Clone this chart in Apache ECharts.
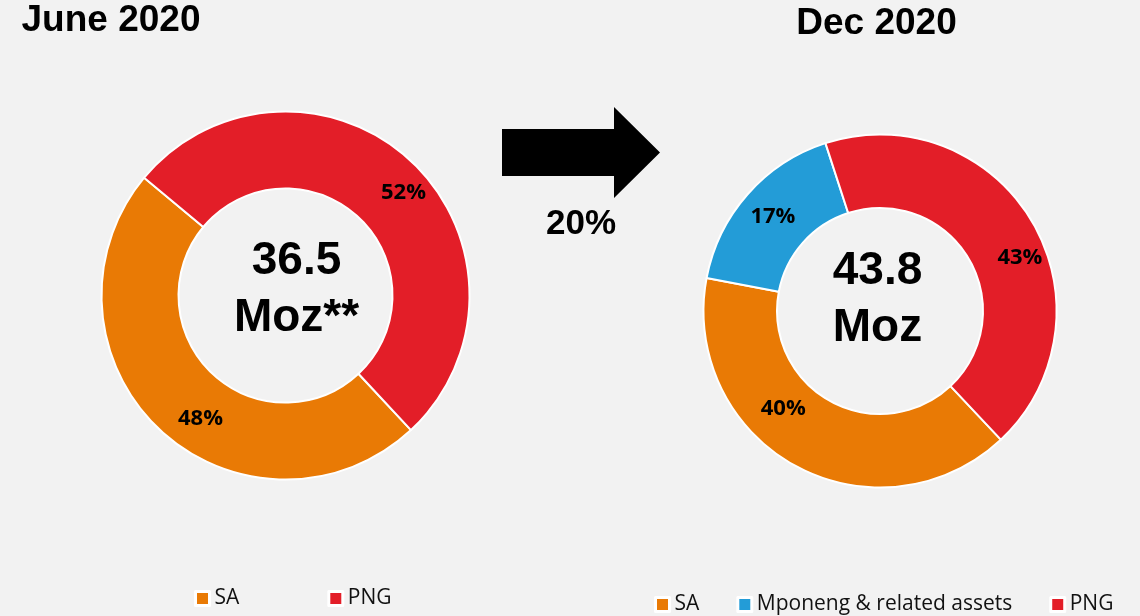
<!DOCTYPE html>
<html>
<head>
<meta charset="utf-8">
<script src="https://cdn.jsdelivr.net/npm/echarts@6/dist/echarts.min.js"></script>
<style>
    html, body { margin: 0; padding: 0; background: #f2f2f2; }
    #chart { width: 1140px; height: 616px; }
</style>
</head>
<body>
<div id="chart"></div>
<script>
// data
const juneCategories = ["SA", "PNG"]
const juneValues = [48, 52]
const decCategories = ["SA", "Mponeng & related assets", "PNG"]
const decValues = [40, 17, 43]
const periodTitles = ["June 2020", "Dec 2020"]
const totals = ["36.5\nMoz**", "43.8\nMoz"]
const growthText = "20%"

const colors = {
    "SA": "#E97A05",
    "Mponeng & related assets": "#239CD7",
    "PNG": "#E31E28",
}

// label nudges (Excel puts them a bit off the mid radius)
const juneLabelShift = [[17, 15], [16, 5]]
const decLabelShift = [[-28, -27], [0, 0], [17, 19]]

const boldArial = size => `bold ${size}px "Liberation Sans", Arial, sans-serif`

function pieSeries(name, categories, values, center, radius, startAngle, shifts) {
    return {
        type: "pie",
        name: name,
        center: center,
        radius: radius,
        startAngle: startAngle,
        clockwise: true,
        silent: true,
        avoidLabelOverlap: false,
        data: categories.map((c, i) => ({
            name: c,
            value: values[i],
            itemStyle: { color: colors[c] },
        })),
        itemStyle: { borderColor: "#fff", borderWidth: 2 },
        label: {
            show: true,
            position: "inside",
            formatter: "{c}%",
            color: "#000",
            fontFamily: "Open Sans",
            fontWeight: "bold",
            fontSize: 22,
        },
        labelLine: { show: false },
        labelLayout: p => ({ dx: shifts[p.dataIndex][0], dy: shifts[p.dataIndex][1] }),
        emphasis: { disabled: true },
    }
}

function legend(names, left, top, gap) {
    return {
        data: names,
        left: left,
        top: top,
        padding: 0,
        itemGap: gap,
        itemWidth: 14,
        itemHeight: 14,
        icon: "rect",
        selectedMode: false,
        itemStyle: { borderColor: "#fff", borderWidth: 3 },
        textStyle: { fontFamily: "Open Sans", fontSize: 21, color: "#111" },
    }
}

function text(str, x, y, font, lineHeight) {
    return {
        type: "text",
        x: x,
        y: y,
        silent: true,
        style: {
            text: str,
            font: font,
            fill: "#000",
            align: "center",
            textAlign: "center",
            verticalAlign: "middle",
            textVerticalAlign: "middle",
            lineHeight: lineHeight,
        },
    }
}

const chart = echarts.init(document.getElementById("chart"), null, { renderer: "canvas" })
chart.setOption({
    backgroundColor: "#f2f2f2",
    animation: false,
    legend: [
        legend(juneCategories, 194, 588, 88),
        legend(decCategories, 654, 594, 37),
    ],
    series: [
        pieSeries("June 2020", juneCategories, juneValues, [285.5, 295.5], [107, 184], -47, juneLabelShift),
        pieSeries("Dec 2020", decCategories, decValues, [880, 311], [103, 176.5], -46.8, decLabelShift),
    ],
    graphic: [
        text(periodTitles[0], 111, 21, boldArial(37)),
        text(periodTitles[1], 876.5, 24, boldArial(37)),
        text(totals[0], 296.5, 290, boldArial(46), 57),
        text(totals[1], 877.5, 300, boldArial(46), 57.5),
        text(growthText, 581, 224, boldArial(35)),
        {
            type: "polygon",
            silent: true,
            shape: {
                points: [[502, 129], [614, 129], [614, 107], [660, 152.5],
                         [614, 198], [614, 176], [502, 176]],
            },
            style: { fill: "#000" },
        },
    ],
})
</script>
</body>
</html>
